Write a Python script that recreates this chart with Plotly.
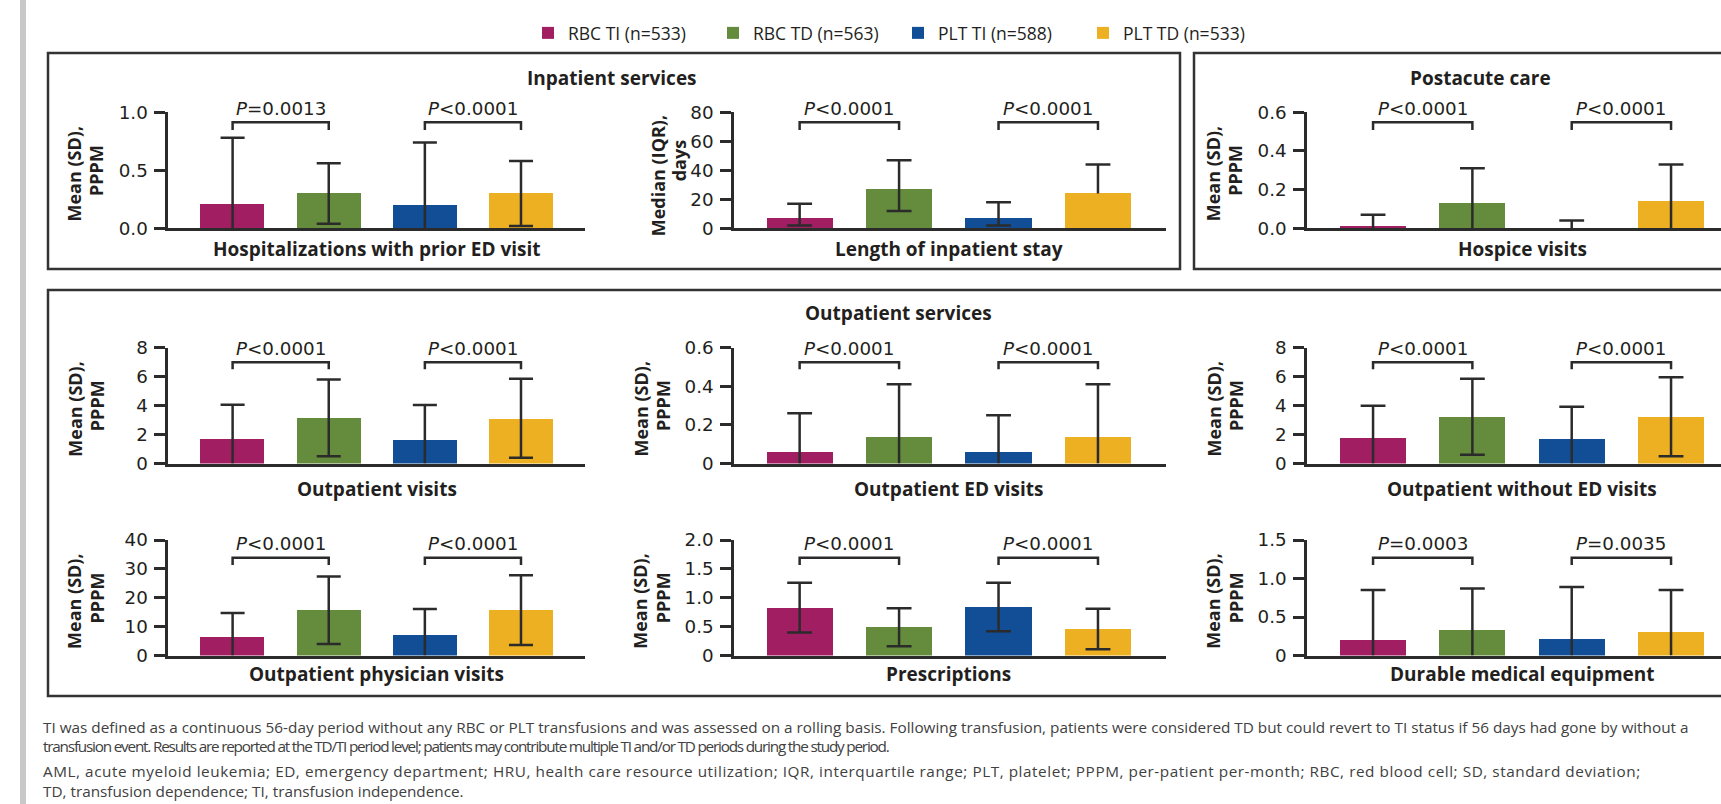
import plotly.graph_objects as go

# ---------------- data ----------------
series_names = ["RBC TI (n=533)", "RBC TD (n=563)", "PLT TI (n=588)", "PLT TD (n=533)"]
series_colors = ["#A21E62", "#648C3C", "#124E96", "#EDB022"]

# Inpatient services
hosp_ed_mean = [0.21, 0.30, 0.20, 0.30]
hosp_ed_sd = [0.57, 0.26, 0.54, 0.28]
los_median = [7, 27, 7, 24]
los_q1 = [2, 12, 2, 24]
los_q3 = [17, 47, 18, 44]
# Postacute care
hospice_mean = [0.01, 0.13, 0.00, 0.14]
hospice_sd = [0.06, 0.18, 0.04, 0.19]
# Outpatient services
outpt_mean = [1.75, 3.15, 1.65, 3.12]
outpt_sd = [2.30, 2.65, 2.38, 2.72]
outpt_ed_mean = [0.06, 0.14, 0.06, 0.14]
outpt_ed_sd = [0.20, 0.27, 0.19, 0.27]
outpt_noed_mean = [1.78, 3.22, 1.70, 3.22]
outpt_noed_sd = [2.20, 2.62, 2.22, 2.72]
phys_mean = [6.5, 15.7, 7.1, 15.7]
phys_sd = [8.2, 11.7, 9.0, 12.1]
rx_mean = [0.83, 0.49, 0.84, 0.46]
rx_sd = [0.43, 0.33, 0.42, 0.35]
dme_mean = [0.20, 0.33, 0.21, 0.31]
dme_sd = [0.65, 0.54, 0.68, 0.54]

p_hosp_ed = ["=0.0013", "<0.0001"]
p_los = ["<0.0001", "<0.0001"]
p_hospice = ["<0.0001", "<0.0001"]
p_outpt = ["<0.0001", "<0.0001"]
p_outpt_ed = ["<0.0001", "<0.0001"]
p_outpt_noed = ["<0.0001", "<0.0001"]
p_phys = ["<0.0001", "<0.0001"]
p_rx = ["<0.0001", "<0.0001"]
p_dme = ["=0.0003", "=0.0035"]

tick_hosp_ed = ["0.0", "0.5", "1.0"]
tick_los = ["0", "20", "40", "60", "80"]
tick_hospice = ["0.0", "0.2", "0.4", "0.6"]
tick_outpt = ["0", "2", "4", "6", "8"]
tick_outpt_ed = ["0", "0.2", "0.4", "0.6"]
tick_outpt_noed = ["0", "2", "4", "6", "8"]
tick_phys = ["0", "10", "20", "30", "40"]
tick_rx = ["0", "0.5", "1.0", "1.5", "2.0"]
tick_dme = ["0", "0.5", "1.0", "1.5"]

footnotes = [
    "TI was defined as a continuous 56-day period without any RBC or PLT transfusions and was assessed on a rolling basis. Following transfusion, patients were considered TD but could revert to TI status if 56 days had gone by without a",
    "transfusion event. Results are reported at the TD/TI period level; patients may contribute multiple TI and/or TD periods during the study period.",
    "AML, acute myeloid leukemia; ED, emergency department; HRU, health care resource utilization; IQR, interquartile range; PLT, platelet; PPPM, per-patient per-month; RBC, red blood cell; SD, standard deviation;",
    "TD, transfusion dependence; TI, transfusion independence.",
]

# ---------------- layout constants ----------------
W, H = 1721, 804
INK = "#231F20"
AX = "#2B2B2B"
BOX = "#333333"
FONT = "Open Sans"
NUMFONT = "DejaVu Sans"

def px_x(p):
    return p / W

def px_y(p):
    return 1 - p / H

col_px = [(168.2, 585.4), (734.0, 1165.6), (1307.0, 1721.0)]
col_range = [(-0.67, 3.67), (-0.66, 3.68), (-0.665, 3.503)]
row_px = [(112.3, 228.3), (347.5, 463.5), (540.0, 655.5)]
# per-row styling offsets (px): p-text shift, bracket top / leg bottom (fractions of ymax), x-title shift
row_style = [
    dict(ptext=4, btop=0.914, bleg=0.847, xt=-20.5),
    dict(ptext=-1, btop=0.873, bleg=0.813, xt=-25),
    dict(ptext=-3, btop=0.847, bleg=0.784, xt=-18.5),
]

def msd(mean, sd):
    lo = [max(m - s, 0) for m, s in zip(mean, sd)]
    hi = [m + s for m, s in zip(mean, sd)]
    return lo, hi

MEAN_T = ("Mean (SD),", "PPPM")
MED_T = ("Median (IQR),", "days")
panels = []
for (row, col, label, ytitle, ymax, ticks, center, lohi, pv) in [
    (0, 0, "Hospitalizations with prior ED visit", MEAN_T, 1.0, tick_hosp_ed, hosp_ed_mean, msd(hosp_ed_mean, hosp_ed_sd), p_hosp_ed),
    (0, 1, "Length of inpatient stay", MED_T, 80, tick_los, los_median, (los_q1, los_q3), p_los),
    (0, 2, "Hospice visits", MEAN_T, 0.6, tick_hospice, hospice_mean, msd(hospice_mean, hospice_sd), p_hospice),
    (1, 0, "Outpatient visits", MEAN_T, 8, tick_outpt, outpt_mean, msd(outpt_mean, outpt_sd), p_outpt),
    (1, 1, "Outpatient ED visits", MEAN_T, 0.6, tick_outpt_ed, outpt_ed_mean, msd(outpt_ed_mean, outpt_ed_sd), p_outpt_ed),
    (1, 2, "Outpatient without ED visits", MEAN_T, 8, tick_outpt_noed, outpt_noed_mean, msd(outpt_noed_mean, outpt_noed_sd), p_outpt_noed),
    (2, 0, "Outpatient physician visits", MEAN_T, 40, tick_phys, phys_mean, msd(phys_mean, phys_sd), p_phys),
    (2, 1, "Prescriptions", MEAN_T, 2.0, tick_rx, rx_mean, msd(rx_mean, rx_sd), p_rx),
    (2, 2, "Durable medical equipment", MEAN_T, 1.5, tick_dme, dme_mean, msd(dme_mean, dme_sd), p_dme),
]:
    panels.append(dict(row=row, col=col, label=label, ytitle=ytitle, ymax=ymax, ticks=ticks,
                       center=center, low=lohi[0], high=lohi[1], pv=pv))

fig = go.Figure()
annotations = []
shapes = []
BAR_W = 0.665
CAP = 0.125

for k, p in enumerate(panels):
    n = k + 1
    xname = "x" if n == 1 else f"x{n}"
    yname = "y" if n == 1 else f"y{n}"
    xkey = "xaxis" if n == 1 else f"xaxis{n}"
    ykey = "yaxis" if n == 1 else f"yaxis{n}"
    c0, c1 = col_px[p["col"]]
    r0, r1 = row_px[p["row"]]
    rs = row_style[p["row"]]
    fig.layout[xkey] = dict(domain=[px_x(c0), px_x(c1)], range=list(col_range[p["col"]]),
                            anchor=yname, showline=True, linecolor=AX, linewidth=2.5,
                            ticks="", showticklabels=False, showgrid=False, zeroline=False,
                            fixedrange=True)
    fig.layout[ykey] = dict(domain=[px_y(r1), px_y(r0)], range=[0, p["ymax"]], anchor=xname,
                            showline=True, linecolor=AX, linewidth=2.5, ticks="outside",
                            ticklen=11, tickwidth=2.5, tickcolor=AX,
                            tickvals=[float(t) for t in p["ticks"]], ticktext=p["ticks"],
                            tickfont=dict(size=18.3, color=INK, family=NUMFONT),
                            ticklabelstandoff=3,
                            showgrid=False, zeroline=False, fixedrange=True)
    # bars
    for i, (name, colr) in enumerate(zip(series_names, series_colors)):
        fig.add_trace(go.Bar(x=[i], y=[p["center"][i]], width=[BAR_W], name=name,
                             marker=dict(color=colr, line=dict(width=0)),
                             legendgroup=name, showlegend=(k == 0),
                             xaxis=xname, yaxis=yname, hoverinfo="y"))
    # whiskers (error bars) built from data
    xs, ys = [], []
    for i, (m, lo, hi) in enumerate(zip(p["center"], p["low"], p["high"])):
        base = lo if lo < m else m
        xs += [i, i, None, i - CAP, i + CAP, None]
        ys += [base, hi, None, hi, hi, None]
        if 0 < lo < m:
            xs += [i - CAP, i + CAP, None]
            ys += [lo, lo, None]
    fig.add_trace(go.Scatter(x=xs, y=ys, mode="lines", line=dict(color=AX, width=2.5),
                             showlegend=False, hoverinfo="skip", xaxis=xname, yaxis=yname))
    # significance brackets and p-values
    ymax = p["ymax"]
    for j, (a, b) in enumerate([(0, 1), (2, 3)]):
        yt, yl = rs["btop"] * ymax, rs["bleg"] * ymax
        shapes.append(dict(type="path", xref=xname, yref=yname,
                           path=f"M {a},{yl} L {a},{yt} L {b},{yt} L {b},{yl}",
                           line=dict(color=AX, width=2.5), layer="above"))
        annotations.append(dict(x=(a + b) / 2, y=ymax, xref=xname, yref=yname,
                                text=f"<i>P</i>{p['pv'][j]}", showarrow=False,
                                xanchor="center", yanchor="middle", yshift=rs["ptext"],
                                font=dict(size=18.3, color=INK, family=NUMFONT)))
    # category label under axis
    annotations.append(dict(x=1.5, y=0, xref=xname, yref=yname, text=f"<b>{p['label']}</b>",
                            showarrow=False, xanchor="center", yanchor="middle", yshift=rs["xt"],
                            font=dict(size=19, color=INK, family=FONT)))
    # y title (two lines placed separately)
    ymid = (r0 + r1) / 2
    if p["ytitle"] is MED_T:
        line_pos = [(76, 6), (55, -10)]
    else:
        line_pos = [(94, 3), (71.5, 0)]
    for txt, (off, dy) in zip(p["ytitle"], line_pos):
        annotations.append(dict(x=px_x(c0 - off), y=px_y(ymid + dy), xref="paper", yref="paper",
                                text=f"<b>{txt}</b>", textangle=-90, showarrow=False,
                                xanchor="center", yanchor="middle",
                                font=dict(size=18, color=INK, family=FONT)))

# section boxes and titles
for (x0, y0, x1, y1) in [(48, 53, 1180, 269), (1194, 53, 1790, 269), (48, 290, 1790, 696)]:
    shapes.append(dict(type="rect", xref="paper", yref="paper", x0=px_x(x0), x1=px_x(x1),
                       y0=px_y(y1), y1=px_y(y0), line=dict(color=BOX, width=2.5),
                       fillcolor="rgba(0,0,0,0)", layer="below"))
for (txt, cx, cy) in [("Inpatient services", 612, 78), ("Postacute care", 1480, 78),
                      ("Outpatient services", 898, 313)]:
    annotations.append(dict(x=px_x(cx), y=px_y(cy), xref="paper", yref="paper",
                            text=f"<b>{txt}</b>", showarrow=False, xanchor="center",
                            yanchor="middle", font=dict(size=19, color=INK, family=FONT)))

# left gray rule
shapes.append(dict(type="rect", xref="paper", yref="paper", x0=px_x(20), x1=px_x(26), y0=0, y1=1,
                   fillcolor="#C8C8C8", line=dict(width=0), layer="below"))

# footnotes (per-line letter spacing mimics the justified / condensed source text)
foot_spacing = ["0px", "-1.2px", "0.55px", "0px"]
for txt, cy, ls in zip(footnotes, [726.6, 746.0, 770.5, 791.0], foot_spacing):
    annotations.append(dict(x=px_x(40.5), y=px_y(cy), xref="paper", yref="paper",
                            text=f'<span style="letter-spacing:{ls}">{txt}</span>',
                            showarrow=False, xanchor="left", yanchor="middle",
                            font=dict(size=15.3, color="#404040", family=FONT)))

fig.update_layout(
    width=W, height=H, margin=dict(l=0, r=0, t=0, b=0, autoexpand=False),
    paper_bgcolor="white", plot_bgcolor="rgba(0,0,0,0)",
    font=dict(family=FONT, color=INK),
    barmode="overlay", bargap=0,
    showlegend=True,
    legend=dict(orientation="h", x=px_x(528), xanchor="left", y=px_y(33), yanchor="middle",
                font=dict(size=17.5, color=INK, family=FONT), entrywidth=140,
                entrywidthmode="pixels", bgcolor="rgba(0,0,0,0)", traceorder="normal",
                itemclick=False, itemdoubleclick=False),
    annotations=annotations, shapes=shapes,
)

fig.write_html("out.html", config={"displayModeBar": False},
               post_script="document.body.style.margin='0';")
